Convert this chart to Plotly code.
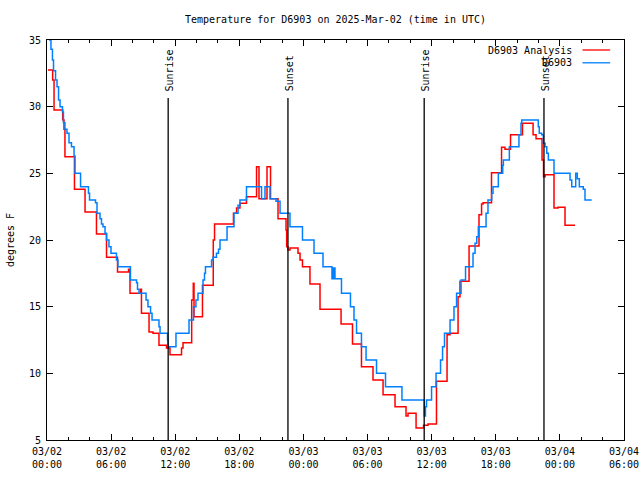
import pandas as pd
import plotly.graph_objects as go

# ---- data (hours since 2025-03-02 00:00 UTC, degrees F) ----
base = pd.Timestamp("2025-03-02 00:00")

obs_hours = [0.19, 0.37, 0.51, 0.61, 0.80, 0.94, 1.08, 1.22, 1.45, 1.54, 1.68, 1.87, 2.06, 2.29,
             2.53, 2.62, 3.14, 3.88, 3.98, 4.54, 4.68, 4.96, 5.10, 5.24, 5.43, 5.57, 5.80, 5.99,
             6.50, 6.64, 7.81, 8.38, 8.47, 8.61, 9.27, 9.45, 9.69, 9.83, 10.48, 10.58, 11.28, 11.32,
             12.07, 13.29, 13.71, 13.94, 14.13, 14.60, 14.74, 14.83, 15.40, 15.54, 15.86, 16.05,
             16.19, 16.85, 17.50, 17.88, 18.06, 18.67, 20.08, 20.40, 20.87, 21.43, 21.81, 22.74,
             23.91, 24.99, 25.83, 26.67, 26.81, 26.95, 27.56, 28.40, 28.73, 28.97, 29.43, 29.86,
             30.84, 31.68, 33.22, 35.31, 35.42, 35.52, 35.99, 36.41, 36.83, 37.02, 37.20, 37.72,
             38.09, 38.33, 38.75, 39.17, 39.87, 40.06, 40.22, 40.37, 41.09, 41.27, 41.62, 41.74,
             42.24, 42.65, 42.71, 43.27, 44.17, 44.36, 44.43, 45.98, 46.07, 46.30, 46.45, 46.61,
             46.77, 46.92, 47.45, 48.95, 49.11, 49.48, 49.63, 49.82, 50.19, 50.35, 50.98]
obs_temps = [35, 34.3, 33.5, 32.7, 32, 31.5, 30.5, 30, 29.6, 28.8, 28.3, 28, 27.3, 27,
             26.3, 25, 24, 23.5, 23, 22.8, 22, 21.6, 21.2, 21, 20.5, 20, 19.5, 19,
             18.5, 18, 17, 16.8, 16.3, 16, 15.5, 15, 14.5, 14, 13.5, 13, 12.5, 12,
             13, 14, 15, 15.5, 16, 17, 17.5, 18, 18.5, 18.7, 19, 19.3,
             20, 21, 22, 22.6, 23, 24, 23.1, 24, 23.1, 22.9, 22, 21,
             20, 19, 18, 17.1, 17.9, 17.1, 16, 15, 14, 13, 12, 11,
             10, 9, 8, 6.8, 7.5, 8, 9, 10, 11, 12, 13, 14,
             15, 16, 17, 18, 19, 19.75, 20.25, 21, 22, 23, 23.5, 24,
             25, 25.6, 26, 27, 27.9, 28.75, 29, 28.5, 28, 27.9, 27.25, 27,
             26.5, 26, 25, 24.5, 24, 25, 24.6, 24, 23.8, 23, 23]

ana_hours = [0.09, 0.53, 0.66, 1.47, 1.59, 1.68, 2.57, 3.56, 4.63, 5.57, 6.60, 7.63, 7.77,
             8.75, 8.84, 9.55, 9.92, 10.48, 11.18, 11.51, 12.59, 12.73, 13.54, 13.69, 13.76,
             14.55, 15.56, 15.68, 17.45, 17.74, 18.06, 18.67, 19.61, 19.84, 20.59, 20.92, 21.62,
             22.37, 22.43, 22.55, 22.74, 23.49, 23.68, 23.91, 24.61, 25.55, 27.52, 28.59, 29.43,
             30.51, 31.45, 32.57, 33.60, 33.79, 34.54, 35.24, 35.66, 36.45, 37.44, 37.72, 38.47,
             38.65, 39.50, 40.43, 40.67, 40.81, 41.60, 42.54, 42.86, 43.38, 44.50, 45.49, 45.77,
             46.33, 46.47, 46.61, 47.45, 47.82, 48.48, 49.42]
ana_temps = [32.75, 32, 29.75, 29, 28.3, 26.25, 23.8, 22.1, 20.45, 18.7, 17.6, 17.8, 16,
             16.3, 14.5, 13.1, 13, 12.1, 11.9, 11.4, 11.9, 12.3, 15.5, 16.75, 14.25,
             16.6, 20, 21.2, 22, 22.4, 22.75, 23.25, 25.5, 23.1, 25.5, 23.1, 21.6,
             20.75, 19.5, 19.25, 19.4, 19, 18.5, 18, 16.7, 14.8, 13.7, 12.2, 10.5,
             9.5, 8.4, 7.5, 6.8, 7, 5.9, 6.1, 6.2, 9.4, 12.9, 13, 15.75,
             16.9, 19.55, 21.9, 22.7, 22.8, 25.05, 26.95, 26.8, 27.9, 28.75, 27.9, 27.6,
             26, 24.75, 24.9, 22.4, 22.45, 21.1, 21.1]

sun_labels = ["Sunrise", "Sunset", "Sunrise", "Sunset"]
sun_hours = [11.34, 22.55, 35.30, 46.51]

series_names = ["D6903 Analysis", "D6903"]
series_colors = ["#ff0000", "#0080ff"]

y_ticks = [5, 10, 15, 20, 25, 30, 35]

FONT = "DejaVu Sans Mono"
FS = 10


def to_time(hours):
    return [base + pd.Timedelta(hours=h) for h in hours]


fig = go.Figure()
fig.add_trace(go.Scatter(x=to_time(ana_hours), y=ana_temps, mode="lines",
                         line=dict(color=series_colors[0], width=1.5, shape="hv"),
                         name=series_names[0], showlegend=False))
fig.add_trace(go.Scatter(x=to_time(obs_hours), y=obs_temps, mode="lines",
                         line=dict(color=series_colors[1], width=1.5, shape="hv"),
                         name=series_names[1], showlegend=False))

# sunrise / sunset markers
for lbl, h in zip(sun_labels, sun_hours):
    t = base + pd.Timedelta(hours=h)
    fig.add_shape(type="line", xref="x", yref="y", x0=t, x1=t, y0=5, y1=30.65,
                  line=dict(color="black", width=1.3))
    fig.add_annotation(x=t + pd.Timedelta(minutes=6), y=31.0, xref="x", yref="y",
                       text=lbl, textangle=-90, showarrow=False,
                       xanchor="center", yanchor="bottom",
                       font=dict(family=FONT, size=FS, color="black"))

# gnuplot-style legend (text then sample line), top right inside
legend_y = [0.975, 0.943]
for name, col, ly in zip(series_names, series_colors, legend_y):
    fig.add_annotation(x=0.913, y=ly, xref="paper", yref="paper", text=name,
                       showarrow=False, xanchor="right", yanchor="middle",
                       font=dict(family=FONT, size=FS, color="black"))
    fig.add_shape(type="line", xref="paper", yref="paper", x0=0.928, x1=0.976,
                  y0=ly, y1=ly, line=dict(color=col, width=1.3))

# y-axis title as rotated text at the far left
fig.add_annotation(x=-0.064, y=0.5, xref="paper", yref="paper", text="degrees F",
                   textangle=-90, showarrow=False, xanchor="center", yanchor="middle",
                   font=dict(family=FONT, size=FS, color="black"))

fig.update_layout(
    width=640, height=480,
    margin=dict(l=47, r=16, t=40, b=40, pad=0, autoexpand=False),
    paper_bgcolor="white", plot_bgcolor="white",
    font=dict(family=FONT, size=FS, color="black"),
    title=dict(text="Temperature for D6903 on 2025-Mar-02 (time in UTC)",
               x=0.5, xref="paper", xanchor="center",
               y=1 - 19 / 480, yref="container", yanchor="middle",
               font=dict(family=FONT, size=FS, color="black")),
)
fig.update_xaxes(
    type="date", automargin=False,
    range=[base, base + pd.Timedelta(hours=54)],
    dtick=6 * 3600 * 1000, tick0=base,
    tickformat="%m/%d<br>%H:%M",
    ticks="inside", ticklen=6, tickwidth=1, tickcolor="black",
    minor=dict(dtick=2 * 3600 * 1000, ticks="inside", ticklen=3, tickcolor="black", showgrid=False),
    showline=True, linecolor="black", linewidth=1, mirror="ticks",
    showgrid=False, zeroline=False, ticklabelstandoff=2,
    tickfont=dict(family=FONT, size=FS, color="black"),
)
fig.update_yaxes(
    automargin=False,
    range=[5, 35], tickvals=y_ticks,
    ticks="inside", ticklen=6, tickwidth=1, tickcolor="black",
    showline=True, linecolor="black", linewidth=1, mirror="ticks",
    showgrid=False, zeroline=False, ticklabelstandoff=3,
    tickfont=dict(family=FONT, size=FS, color="black"),
)

fig.write_html("out.html",
               config={"displayModeBar": False},
               post_script="document.body.style.margin='0';document.body.style.padding='0';")
